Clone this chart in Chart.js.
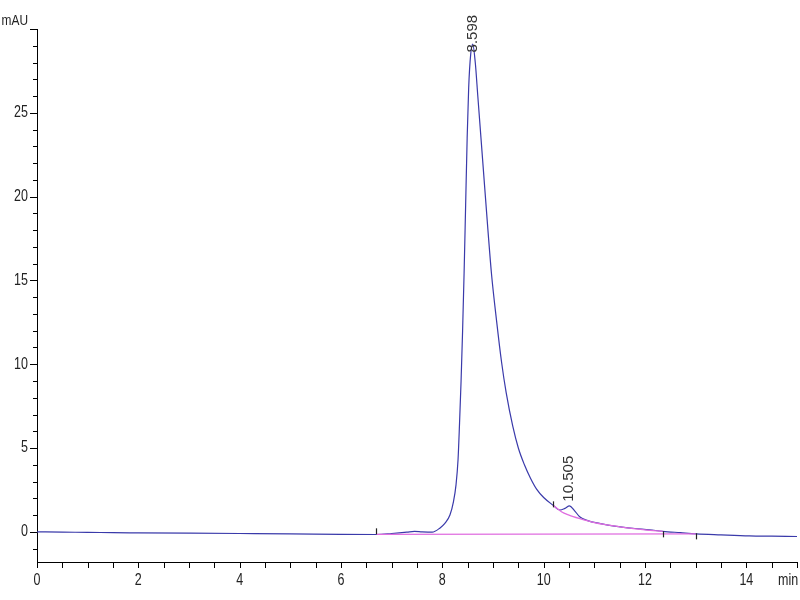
<!DOCTYPE html>
<html>
<head>
<meta charset="utf-8">
<script src="https://cdn.jsdelivr.net/npm/chart.js@4.4.1/dist/chart.umd.min.js"></script>
<style>
  html, body { margin: 0; padding: 0; background: #fff; }
  canvas { display: block; }
</style>
</head>
<body>
<canvas id="c" width="800" height="600"></canvas>
<script>
// ---- data ----
const times = [0, 0.5, 1.0, 1.5, 2.0, 3, 4, 5, 6, 6.7, 7.0, 7.3, 7.45, 7.6, 7.8, 7.95, 8.05, 8.15, 8.22, 8.27, 8.31, 8.34, 8.37, 8.40, 8.43, 8.46, 8.49, 8.52, 8.56, 8.60, 8.65, 8.70, 8.80, 8.90, 8.97, 9.07, 9.17, 9.26, 9.39, 9.50, 9.62, 9.74, 9.86, 10.0, 10.18, 10.32, 10.42, 10.51, 10.6, 10.71, 10.87, 11.1, 11.43, 11.8, 12.09, 12.35, 12.7, 13.01, 13.5, 14.06, 14.5, 15.0];
const signal = [0, -0.02, -0.03, -0.05, -0.06, -0.08, -0.1, -0.12, -0.15, -0.16, -0.1, -0.02, 0.03, 0.0, -0.02, 0.22, 0.5, 1.0, 1.8, 2.8, 4.3, 6.5, 9.0, 12.0, 15.5, 19.5, 23.5, 26.5, 28.5, 29.1, 28.0, 26.0, 22.0, 18.0, 15.4, 12.6, 10.1, 8.3, 6.3, 5.0, 4.0, 3.2, 2.55, 2.05, 1.6, 1.3, 1.4, 1.55, 1.3, 0.9, 0.67, 0.5, 0.32, 0.2, 0.12, 0.03, -0.05, -0.12, -0.18, -0.24, -0.26, -0.28];

const baseTimes = [6.7, 13.0];
const baseValues = [-0.15, -0.12];

const skimTimes = [10.18, 10.35, 10.5, 10.7, 11.0, 11.5, 12.0, 12.35];
const skimValues = [1.6, 1.2, 1.0, 0.8, 0.55, 0.3, 0.12, 0.03];

const peakTimes = [8.598, 10.505];
const peakLabelValues = [28.6, 1.8];
const peakTexts = ['8.598', '10.505'];

const markerTimes = [6.7, 10.18, 12.35, 13.0];
const markerValues = [0.03, 1.64, -0.15, -0.27];

const xTicks = [0, 2, 4, 6, 8, 10, 12, 14];
const yTicks = [0, 5, 10, 15, 20, 25];
const xMin = 0, xMax = 15, xMinorStep = 0.5;
const yMin = -1.8, yMax = 30, yMinorStep = 1, yMajorEvery = 5;
const xUnit = 'min';
const yUnit = 'mAU';

const pts = (xs, ys) => xs.map((t, i) => ({ x: t, y: ys[i] }));

const SANS = "'Liberation Sans', Arial, sans-serif";
const NARROW = 0.78;

function narrowText(ctx, text, px, py, align, baseline, sx) {
  ctx.save();
  ctx.translate(px, py);
  ctx.scale(sx, 1);
  ctx.textAlign = align;
  ctx.textBaseline = baseline;
  ctx.fillText(text, 0, 0);
  ctx.restore();
}

const decor = {
  id: 'decor',
  afterDraw(chart) {
    const { ctx, chartArea: a, scales: { x, y } } = chart;
    ctx.save();
    ctx.strokeStyle = '#000';
    ctx.lineWidth = 1;
    // x ticks
    for (let v = xMin; v <= xMax + 1e-9; v += xMinorStep) {
      const px = Math.round(x.getPixelForValue(v)) + 0.5;
      ctx.beginPath(); ctx.moveTo(px, a.bottom); ctx.lineTo(px, a.bottom + 6); ctx.stroke();
    }
    // y ticks
    for (let v = Math.ceil(yMin); v <= yMax + 1e-9; v += yMinorStep) {
      const len = (v % yMajorEvery === 0) ? 7 : 4;
      const py = Math.round(y.getPixelForValue(v)) + 0.5;
      ctx.beginPath(); ctx.moveTo(a.left - len, py); ctx.lineTo(a.left, py); ctx.stroke();
    }
    // tick labels
    ctx.fillStyle = '#222';
    ctx.font = '16px ' + SANS;
    xTicks.forEach(v => narrowText(ctx, String(v), x.getPixelForValue(v), a.bottom + 19, 'center', 'middle', NARROW));
    yTicks.forEach(v => narrowText(ctx, String(v), a.left - 9, y.getPixelForValue(v), 'right', 'middle', NARROW));
    // unit labels
    ctx.font = '14px ' + SANS;
    narrowText(ctx, yUnit, a.left - 9, y.getPixelForValue(yMax) - 1, 'right', 'bottom', 0.85);
    ctx.font = '16px ' + SANS;
    narrowText(ctx, xUnit, a.right - 19, a.bottom + 19, 'left', 'middle', NARROW);
    // integration markers
    ctx.strokeStyle = '#222';
    ctx.lineWidth = 1.2;
    markerTimes.forEach((t, i) => {
      const px = Math.round(x.getPixelForValue(t)) + 0.5;
      const py = y.getPixelForValue(markerValues[i]);
      ctx.beginPath(); ctx.moveTo(px, py - 3); ctx.lineTo(px, py + 3); ctx.stroke();
    });
    // peak labels (rotated)
    ctx.font = '15px ' + SANS;
    ctx.fillStyle = '#333';
    peakTimes.forEach((t, i) => {
      const px = x.getPixelForValue(t);
      const py = y.getPixelForValue(peakLabelValues[i]);
      ctx.save();
      ctx.translate(px, py);
      ctx.rotate(-Math.PI / 2);
      ctx.textAlign = 'left';
      ctx.textBaseline = 'middle';
      ctx.fillText(peakTexts[i], 0, 0);
      ctx.restore();
    });
    ctx.restore();
  }
};

new Chart(document.getElementById('c'), {
  type: 'line',
  data: {
    datasets: [
      { data: pts(times, signal), borderColor: '#3a3aaa', borderWidth: 1.2, pointRadius: 0, cubicInterpolationMode: 'monotone', order: 2 },
      { data: pts(baseTimes, baseValues), borderColor: '#e06ee0', borderWidth: 1.3, pointRadius: 0, order: 1 },
      { data: pts(skimTimes, skimValues), borderColor: '#e06ee0', borderWidth: 1.3, pointRadius: 0, cubicInterpolationMode: 'monotone', order: 1 }
    ]
  },
  options: {
    responsive: false,
    animation: false,
    layout: { padding: { top: 29, right: 3, left: 0, bottom: 0 } },
    plugins: { legend: { display: false }, tooltip: { enabled: false } },
    scales: {
      x: {
        type: 'linear', min: xMin, max: xMax,
        grid: { display: false, drawTicks: false },
        border: { display: true, color: '#000', width: 1 },
        afterBuildTicks: s => { s.ticks = xTicks.map(v => ({ value: v })); },
        afterFit: s => { s.height = 38; },
        ticks: { display: false }
      },
      y: {
        type: 'linear', min: yMin, max: yMax,
        grid: { display: false, drawTicks: false },
        border: { display: true, color: '#000', width: 1 },
        afterBuildTicks: s => { s.ticks = yTicks.map(v => ({ value: v })); },
        afterFit: s => { s.width = 37; },
        ticks: { display: false }
      }
    }
  },
  plugins: [decor]
});
</script>
</body>
</html>
